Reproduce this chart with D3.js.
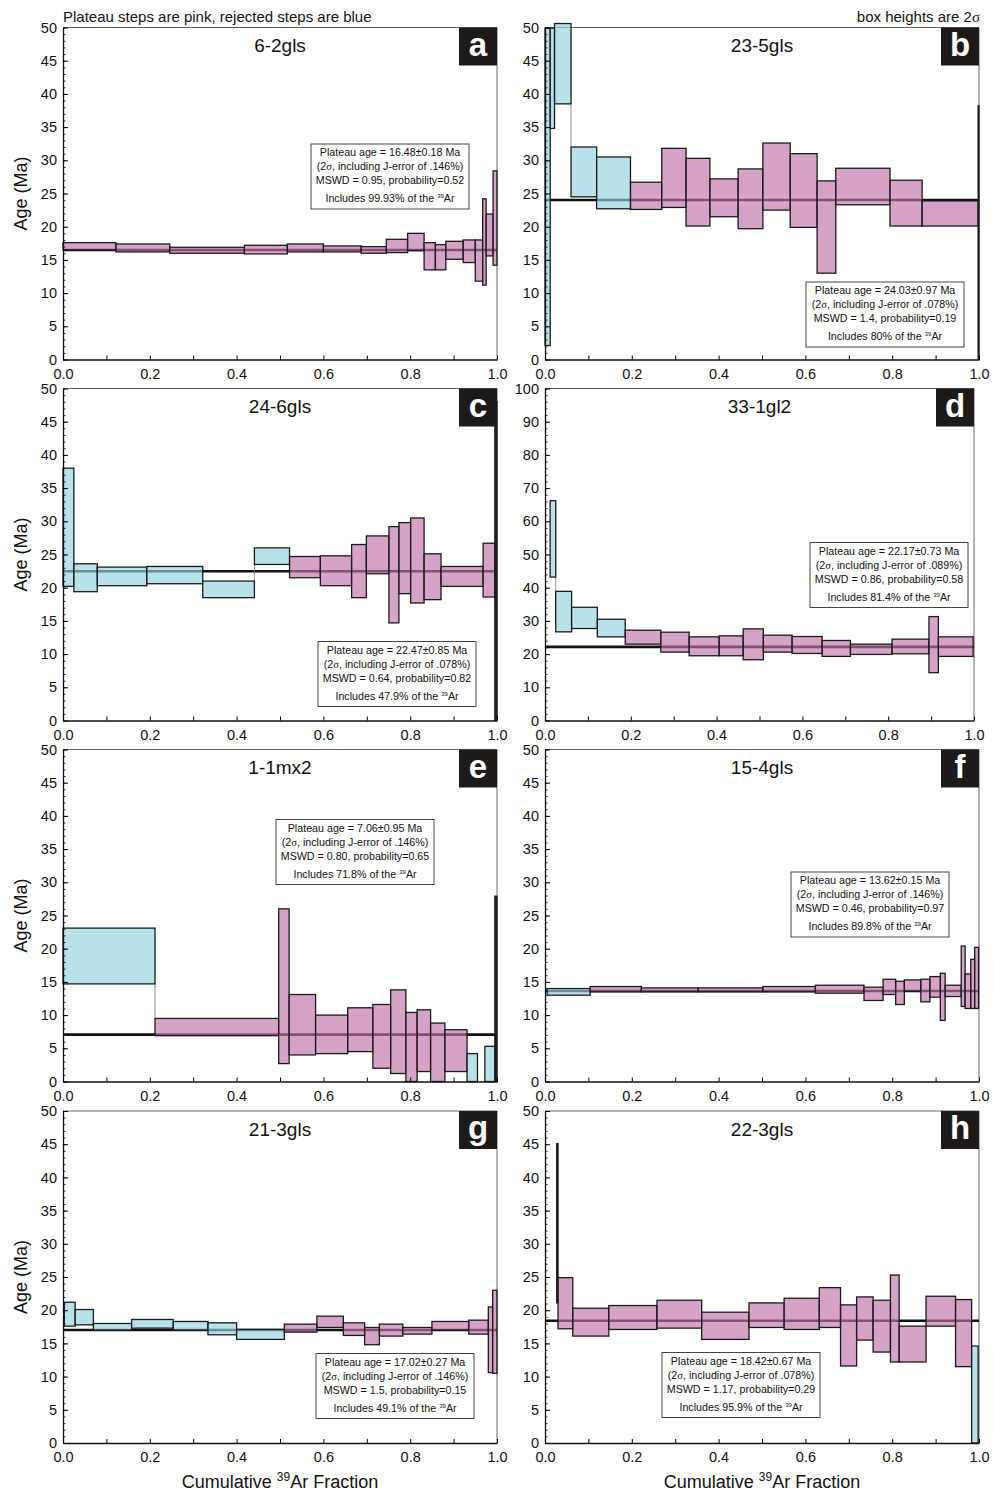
<!DOCTYPE html>
<html>
<head>
<meta charset="utf-8">
<script src="https://cdn.jsdelivr.net/npm/d3@7"></script>
<style>
  html, body { margin: 0; padding: 0; background: #fff; }
  svg { display: block; font-family: "Liberation Sans", Arial, Helvetica, sans-serif; }
</style>
</head>
<body>
<svg id="chart" width="994" height="1493"></svg>
<script>
// ---- Step-heating data: cumulative 39Ar fraction (from, to), 2σ age box (lo, hi) in Ma, plateau flag ----
const stepsA = [
  [0, 0.122, 16.5, 17.6, 1], [0.122, 0.246, 16.2, 17.4, 1], [0.246, 0.418, 16.0, 16.9, 1],
  [0.418, 0.517, 15.9, 17.2, 1], [0.517, 0.6, 16.2, 17.4, 1], [0.6, 0.687, 16.2, 17.1, 1],
  [0.687, 0.745, 16.0, 17.0, 1], [0.745, 0.794, 16.1, 18.1, 1], [0.794, 0.832, 16.4, 19.0, 1],
  [0.832, 0.858, 13.5, 17.6, 1], [0.858, 0.882, 13.5, 17.3, 1], [0.882, 0.922, 15.1, 17.8, 1],
  [0.922, 0.95, 14.6, 18.0, 1], [0.95, 0.967, 11.8, 18.0, 1], [0.967, 0.975, 11.2, 24.2, 1],
  [0.975, 0.991, 15.6, 21.9, 1], [0.991, 1.0, 14.2, 28.4, 1]
];
const stepsB = [
  [0, 0.012, 2.1, 49.9, 0], [0.012, 0.022, 34.8, 49.9, 0], [0.022, 0.06, 38.5, 50.6, 0],
  [0.06, 0.119, 24.5, 32.0, 0], [0.119, 0.197, 22.7, 30.5, 0], [0.197, 0.269, 22.6, 26.7, 1],
  [0.269, 0.325, 22.9, 31.8, 1], [0.325, 0.38, 20.1, 30.3, 1], [0.38, 0.445, 21.5, 27.2, 1],
  [0.445, 0.502, 19.7, 28.7, 1], [0.502, 0.565, 22.5, 32.6, 1], [0.565, 0.627, 19.9, 31.0, 1],
  [0.627, 0.67, 13.0, 26.9, 1], [0.67, 0.795, 23.3, 28.8, 1], [0.795, 0.869, 20.1, 27.0, 1],
  [0.869, 0.998, 20.1, 23.9, 1], [0.998, 1.0, 0, 38.2, 0]
];
const stepsC = [
  [0, 0.025, 20.2, 38.0, 0], [0.025, 0.079, 19.4, 23.6, 0], [0.079, 0.193, 20.3, 23.1, 0],
  [0.193, 0.322, 20.6, 23.2, 0], [0.322, 0.441, 18.5, 21.0, 0], [0.441, 0.522, 23.5, 26.0, 0],
  [0.522, 0.593, 21.5, 24.7, 1], [0.593, 0.665, 20.3, 24.8, 1], [0.665, 0.699, 18.5, 26.5, 1],
  [0.699, 0.751, 22.1, 27.8, 1], [0.751, 0.774, 14.7, 29.2, 1], [0.774, 0.801, 19.1, 29.8, 1],
  [0.801, 0.832, 17.7, 30.5, 1], [0.832, 0.871, 18.2, 25.1, 1], [0.871, 0.968, 20.2, 23.2, 1],
  [0.968, 0.995, 18.6, 26.7, 1], [0.995, 1.0, 0, 48.0, 0]
];
const stepsD = [
  [0.012, 0.025, 43.2, 66.2, 0], [0.025, 0.062, 26.7, 38.9, 0], [0.062, 0.122, 27.7, 34.1, 0],
  [0.122, 0.187, 25.2, 30.5, 0], [0.187, 0.27, 23.0, 27.2, 1], [0.27, 0.336, 20.6, 26.6, 1],
  [0.336, 0.406, 19.5, 25.2, 1], [0.406, 0.462, 19.5, 25.5, 1], [0.462, 0.509, 18.3, 27.6, 1],
  [0.509, 0.576, 20.6, 25.7, 1], [0.576, 0.646, 20.2, 25.3, 1], [0.646, 0.712, 19.3, 24.1, 1],
  [0.712, 0.809, 19.9, 23.0, 1], [0.809, 0.895, 20.1, 24.5, 1], [0.895, 0.917, 14.4, 31.3, 1],
  [0.917, 0.998, 19.3, 25.2, 1]
];
const stepsE = [
  [0, 0.212, 14.7, 23.1, 0], [0.212, 0.497, 6.9, 9.5, 1], [0.497, 0.521, 2.7, 26.0, 1],
  [0.521, 0.582, 4.0, 13.1, 1], [0.582, 0.656, 4.2, 10.0, 1], [0.656, 0.714, 4.5, 11.1, 1],
  [0.714, 0.755, 2.0, 11.6, 1], [0.755, 0.79, 1.2, 13.8, 1], [0.79, 0.816, 0, 10.4, 1],
  [0.816, 0.847, 1.5, 10.8, 1], [0.847, 0.88, 0, 8.8, 1], [0.88, 0.931, 1.5, 7.8, 1],
  [0.931, 0.955, 0, 4.2, 0], [0.972, 0.995, 0, 5.3, 0], [0.995, 1.0, 0, 27.9, 0]
];
const stepsF = [
  [0.005, 0.104, 13.0, 14.0, 0], [0.104, 0.222, 13.5, 14.3, 1], [0.222, 0.353, 13.5, 14.1, 1],
  [0.353, 0.502, 13.5, 14.1, 1], [0.502, 0.623, 13.5, 14.3, 1], [0.623, 0.735, 13.3, 14.5, 1],
  [0.735, 0.779, 12.2, 14.2, 1], [0.779, 0.808, 13.1, 15.4, 1], [0.808, 0.828, 11.6, 15.1, 1],
  [0.828, 0.866, 13.6, 15.3, 1], [0.866, 0.887, 12.0, 15.4, 1], [0.887, 0.911, 12.7, 15.8, 1],
  [0.911, 0.922, 9.2, 16.3, 1], [0.922, 0.959, 12.8, 14.5, 1], [0.959, 0.968, 11.3, 20.4, 1],
  [0.968, 0.981, 11.0, 16.2, 1], [0.981, 0.99, 11.0, 18.4, 1], [0.99, 0.999, 11.0, 20.2, 1]
];
const stepsG = [
  [0.003, 0.028, 17.6, 21.2, 0], [0.028, 0.07, 17.8, 20.1, 0], [0.07, 0.158, 17.0, 18.0, 0],
  [0.158, 0.254, 17.3, 18.6, 0], [0.254, 0.334, 17.0, 18.3, 0], [0.334, 0.4, 16.3, 18.1, 0],
  [0.4, 0.51, 15.6, 17.1, 0], [0.51, 0.585, 16.7, 17.9, 1], [0.585, 0.646, 17.4, 19.1, 1],
  [0.646, 0.695, 16.2, 18.1, 1], [0.695, 0.729, 14.8, 17.4, 1], [0.729, 0.783, 16.1, 17.9, 1],
  [0.783, 0.85, 16.4, 17.4, 1], [0.85, 0.935, 17.0, 18.3, 1], [0.935, 0.98, 16.4, 18.5, 1],
  [0.98, 0.99, 10.6, 20.5, 1], [0.99, 1.0, 10.5, 23.0, 1]
];
const stepsH = [
  [0.027, 0.03, 21.1, 45.1, 1], [0.03, 0.064, 17.2, 24.9, 1], [0.064, 0.147, 16.1, 20.3, 1],
  [0.147, 0.258, 17.1, 20.7, 1], [0.258, 0.361, 17.3, 21.5, 1], [0.361, 0.47, 15.6, 19.7, 1],
  [0.47, 0.551, 17.4, 21.1, 1], [0.551, 0.632, 17.1, 21.8, 1], [0.632, 0.681, 17.4, 23.4, 1],
  [0.681, 0.718, 11.6, 20.8, 1], [0.718, 0.756, 15.5, 22.0, 1], [0.756, 0.796, 13.7, 21.5, 1],
  [0.796, 0.816, 12.2, 25.3, 1], [0.816, 0.878, 12.2, 17.6, 1], [0.878, 0.946, 17.6, 22.1, 1],
  [0.946, 0.983, 11.5, 21.6, 1], [0.983, 0.998, 0, 14.6, 0]
];

// ---- Per-sample summary values ----
const panelLetters = ["a", "b", "c", "d", "e", "f", "g", "h"];
const sampleNames = ["6-2gls", "23-5gls", "24-6gls", "33-1gl2", "1-1mx2", "15-4gls", "21-3gls", "22-3gls"];
const plateauAge = [16.48, 24.03, 22.47, 22.17, 7.06, 13.62, 17.02, 18.42];
const plateauAgeText = ["16.48", "24.03", "22.47", "22.17", "7.06", "13.62", "17.02", "18.42"];
const plateauErrText = ["0.18", "0.97", "0.85", "0.73", "0.95", "0.15", "0.27", "0.67"];
const jErrorText = [".146", ".078", ".078", ".089", ".146", ".146", ".146", ".078"];
const mswdText = ["0.95", "1.4", "0.64", "0.86", "0.80", "0.46", "1.5", "1.17"];
const probText = ["0.52", "0.19", "0.82", "0.58", "0.65", "0.97", "0.15", "0.29"];
const includedText = ["99.93", "80", "47.9", "81.4", "71.8", "89.8", "49.1", "95.9"];
const ageMax = [50, 50, 50, 100, 50, 50, 50, 50];
const xTickValues = [0, 0.1, 0.2, 0.3, 0.4, 0.5, 0.6, 0.7, 0.8, 0.9, 1.0];
const allSteps = [stepsA, stepsB, stepsC, stepsD, stepsE, stepsF, stepsG, stepsH];

// ---- Layout ----
const colLeft = [63, 545];
const colWidth = [434, 434];
const rowTop = [27.5, 388.5, 749.5, 1111];
const plotH = 332;
// stats box offset inside each plot (px from plot's top-left)
const statsOffset = [[248, 116.5], [261, 254.5], [255, 253], [265, 154], [213, 70], [246, 122.5], [253, 242.5], [117, 241.5]];
const panelWidthAdjust = [0, 0, 0, -5, 0, 0, 0, 0];

const PINK = "#d6a2c8", BLUE = "#b8e2ea";
const FILL_OPACITY = 0.66;
// pre-multiplied fill so the translucent box reads as the target colour over white
function solidFor(hex) {
  const c = d3.rgb(hex);
  const f = v => Math.round((v - (1 - FILL_OPACITY) * 255) / FILL_OPACITY);
  return d3.rgb(f(c.r), f(c.g), f(c.b)).formatHex();
}
const pinkFill = solidFor(PINK), blueFill = solidFor(BLUE);

const svg = d3.select("#chart");
svg.append("rect").attr("width", 994).attr("height", 1493).attr("fill", "#fff");

// header notes
svg.append("text").attr("x", 63).attr("y", 22).attr("font-size", 15).attr("fill", "#111")
  .text("Plateau steps are pink, rejected steps are blue");
const hdr = svg.append("text").attr("x", 980).attr("y", 22).attr("font-size", 15)
  .attr("fill", "#111").attr("text-anchor", "end");
hdr.append("tspan").text("box heights are 2");
hdr.append("tspan").attr("font-family", "'Liberation Serif', 'DejaVu Serif', serif").text("σ");

panelLetters.forEach((letter, i) => {
  const col = i % 2, row = Math.floor(i / 2);
  const W = colWidth[col] + panelWidthAdjust[i];
  const g = svg.append("g").attr("transform", `translate(${colLeft[col]},${rowTop[row]})`);
  const x = d3.scaleLinear().domain([0, 1]).range([0, W]);
  const y = d3.scaleLinear().domain([0, ageMax[i]]).range([plotH, 0]);
  const steps = allSteps[i].map(s => ({ from: s[0], to: s[1], lo: s[2], hi: s[3], plateau: !!s[4] }));

  // frame (top and right)
  g.append("path").attr("d", `M0,0H${W}V${plotH}`).attr("fill", "none")
    .attr("stroke", "#666").attr("stroke-width", 1);

  // plateau age line
  g.append("line").attr("x1", x(0)).attr("x2", x(1))
    .attr("y1", y(plateauAge[i])).attr("y2", y(plateauAge[i]))
    .attr("stroke", "#111").attr("stroke-width", 2.6);

  // thin connectors between consecutive steps that do not overlap
  steps.forEach((s, k) => {
    const n = steps[k + 1];
    if (!n || Math.abs(n.from - s.to) > 1e-9) return;
    let a = null, b = null;
    if (s.lo > n.hi) { a = n.hi; b = s.lo; }
    else if (n.lo > s.hi) { a = s.hi; b = n.lo; }
    if (a === null) return;
    g.append("line").attr("x1", x(s.to)).attr("x2", x(s.to)).attr("y1", y(a)).attr("y2", y(b))
      .attr("stroke", "#777").attr("stroke-width", 0.8);
  });

  // step boxes (very narrow steps render as a dark bar)
  const narrow = d => x(d.to) - x(d.from) < 3;
  g.selectAll("rect.step").data(steps).join("rect").attr("class", "step")
    .attr("x", d => x(d.from)).attr("width", d => Math.max(0.8, x(d.to) - x(d.from)))
    .attr("y", d => y(d.hi)).attr("height", d => y(d.lo) - y(d.hi))
    .attr("fill", d => narrow(d) ? "#222" : (d.plateau ? pinkFill : blueFill))
    .attr("fill-opacity", d => narrow(d) ? 1 : FILL_OPACITY)
    .attr("stroke", "#1b1b1b").attr("stroke-width", 1.3);

  // axes
  const major = ageMax[i] === 100 ? 10 : 5, minor = ageMax[i] === 100 ? 2 : 1;
  const yMinor = d3.axisLeft(y).tickValues(d3.range(0, ageMax[i] + 0.001, minor))
    .tickSizeInner(-2.5).tickSizeOuter(0).tickFormat("");
  g.append("g").call(yMinor).call(a => a.select(".domain").remove())
    .selectAll("line").attr("stroke", "#333");
  const yAxis = d3.axisLeft(y).tickValues(d3.range(0, ageMax[i] + 0.001, major))
    .tickSizeInner(-5).tickSizeOuter(0).tickPadding(6).tickFormat(d3.format("d"));
  const ya = g.append("g").call(yAxis);
  ya.selectAll("text").attr("font-size", 14.5).attr("fill", "#111")
    .attr("font-family", "'Liberation Sans', Arial, sans-serif");
  ya.select(".domain").attr("stroke", "#111").attr("stroke-width", 1.3);

  const xAxis = d3.axisBottom(x).tickValues(xTickValues).tickSizeInner(-4).tickSizeOuter(0)
    .tickPadding(9).tickFormat(v => (Math.round(v * 10) % 2 === 0) ? d3.format(".1f")(v) : "");
  const xa = g.append("g").attr("transform", `translate(0,${plotH})`).call(xAxis);
  xa.selectAll("text").attr("font-size", 14.5).attr("fill", "#111")
    .attr("font-family", "'Liberation Sans', Arial, sans-serif");
  xa.select(".domain").attr("stroke", "#111").attr("stroke-width", 1.3);

  // sample name
  g.append("text").attr("x", W / 2).attr("y", 24.5).attr("text-anchor", "middle")
    .attr("font-size", 19).attr("fill", "#111").text(sampleNames[i]);

  // panel letter tag
  g.append("rect").attr("x", W - 38).attr("y", 0).attr("width", 38).attr("height", 38).attr("fill", "#1e1a1a");
  g.append("text").attr("x", W - 19).attr("y", 28).attr("text-anchor", "middle")
    .attr("font-size", 33).attr("font-weight", "bold").attr("fill", "#fff").text(letter);

  // plateau statistics box
  const [sx, sy] = statsOffset[i];
  const sb = g.append("g").attr("transform", `translate(${sx},${sy})`);
  sb.append("rect").attr("width", 158).attr("height", 65).attr("fill", "#fff")
    .attr("stroke", "#444").attr("stroke-width", 1);
  const fs = 10.7, cx = 79;
  sb.append("text").attr("x", cx).attr("y", 12).attr("text-anchor", "middle").attr("font-size", fs)
    .attr("fill", "#111").text(`Plateau age = ${plateauAgeText[i]}±${plateauErrText[i]} Ma`);
  const l2 = sb.append("text").attr("x", cx).attr("y", 26).attr("text-anchor", "middle")
    .attr("font-size", fs).attr("fill", "#111");
  l2.append("tspan").text("(2");
  l2.append("tspan").attr("font-family", "'Liberation Serif', 'DejaVu Serif', serif").text("σ");
  l2.append("tspan").text(`, including J-error of ${jErrorText[i]}%)`);
  sb.append("text").attr("x", cx).attr("y", 40).attr("text-anchor", "middle").attr("font-size", fs)
    .attr("fill", "#111").text(`MSWD = ${mswdText[i]}, probability=${probText[i]}`);
  const l4 = sb.append("text").attr("x", cx).attr("y", 58).attr("text-anchor", "middle")
    .attr("font-size", fs).attr("fill", "#111");
  l4.append("tspan").text(`Includes ${includedText[i]}% of the `);
  l4.append("tspan").attr("font-size", 6).attr("dy", -4).text("39");
  l4.append("tspan").attr("dy", 4).text("Ar");

  // axis titles
  if (col === 0) {
    g.append("text").attr("transform", `translate(${-36},${plotH / 2}) rotate(-90)`)
      .attr("text-anchor", "middle").attr("font-size", 18).attr("fill", "#111").text("Age (Ma)");
  }
  if (row === 3) {
    const t = g.append("text").attr("x", W / 2).attr("y", plotH + 45).attr("text-anchor", "middle")
      .attr("font-size", 18).attr("fill", "#111");
    t.append("tspan").text("Cumulative ");
    t.append("tspan").attr("font-size", 12).attr("dy", -7).text("39");
    t.append("tspan").attr("dy", 7).text("Ar Fraction");
  }
});
</script>
</body>
</html>
